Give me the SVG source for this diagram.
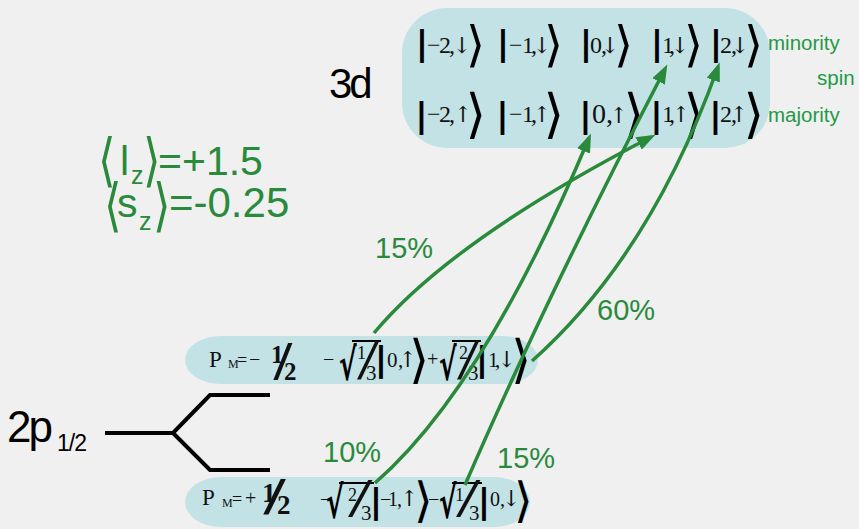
<svg xmlns="http://www.w3.org/2000/svg" width="859" height="529" viewBox="0 0 859 529">
<style>
.box{fill:#c3e2e6}
.k{font-family:"Liberation Serif","DejaVu Serif",serif;font-size:24px;fill:#111}
.ar{font-family:"DejaVu Serif",serif;font-size:22px}
.bar{font-family:"DejaVu Sans",sans-serif;font-size:34px;font-weight:bold;fill:#000}
.ang{font-family:"DejaVu Sans",sans-serif;fill:#000}
.g{font-family:"Liberation Sans",Arial,sans-serif;fill:#2a8a3c}
.gb{font-family:"DejaVu Sans",sans-serif;font-size:36px;fill:#2a8a3c}
.gl{font-family:"Liberation Sans",Arial,sans-serif;font-size:20.5px;fill:#1f9a47}
.pc{font-family:"Liberation Sans",Arial,sans-serif;font-size:29px;fill:#2a8a3c}
.blk{font-family:"Liberation Sans",Arial,sans-serif;fill:#000}
.f{font-family:"Liberation Serif","DejaVu Serif",serif;fill:#111}
.sl{font-family:"Liberation Serif","DejaVu Serif",serif;font-size:40px;fill:#111}
.rad{font-family:"DejaVu Sans",sans-serif;font-size:44px;font-weight:bold;fill:#000}
.vin{stroke:#000;stroke-width:2}
.lvl{fill:none;stroke:#000;stroke-width:4}
.arr{fill:none;stroke:#2a8a3c;stroke-width:3.5;marker-end:url(#ah)}
</style>
<defs>
<marker id="ah" markerWidth="20" markerHeight="14" refX="14" refY="7" orient="auto" markerUnits="userSpaceOnUse">
<path d="M0,0 L19,7 L0,14 z" fill="#2a8a3c"/>
</marker>
</defs>
<rect width="859" height="529" fill="#f0f0f0"/>

<g id="d3-box">
<rect class="box" x="402" y="8" width="368" height="140" rx="45" ry="45"/>
<text class="blk" x="329" y="98" font-size="42" letter-spacing="-3">3d</text>
</g>

<g id="d3-minority">
<text class="k"><tspan class="bar" x="415.8" y="55">|</tspan><tspan x="427 439 449" y="53">−2,</tspan><tspan class="ar" x="452.8" y="53">↓</tspan><tspan class="ang" font-size="49" x="466" y="60.5">⟩</tspan></text>
<text class="k"><tspan class="bar" x="496.8" y="55">|</tspan><tspan x="509 522 531" y="53">−1,</tspan><tspan class="ar" x="532.8" y="53">↓</tspan><tspan class="ang" font-size="49" x="544" y="60.5">⟩</tspan></text>
<text class="k"><tspan class="bar" x="579.8" y="55">|</tspan><tspan x="590 601" y="53">0,</tspan><tspan class="ar" x="600.8" y="53">↓</tspan><tspan class="ang" font-size="49" x="614" y="60.5">⟩</tspan></text>
<text class="k"><tspan class="bar" x="650.8" y="55">|</tspan><tspan x="662 669" y="53">1,</tspan><tspan class="ar" x="670.8" y="53">↓</tspan><tspan class="ang" font-size="49" x="684" y="60.5">⟩</tspan></text>
<text class="k"><tspan class="bar" x="709.8" y="55">|</tspan><tspan x="720 731" y="53">2,</tspan><tspan class="ar" x="730.8" y="53">↓</tspan><tspan class="ang" font-size="49" x="744" y="60.5">⟩</tspan></text>
</g>

<g id="d3-majority">
<text class="k"><tspan class="bar" font-size="37" x="415.2" y="127">|</tspan><tspan x="427 439 449" y="122">−2,</tspan><tspan class="ar" x="453.8" y="122">↑</tspan><tspan class="ang" font-size="53" x="465.5" y="132">⟩</tspan></text>
<text class="k"><tspan class="bar" font-size="37" x="496.2" y="127">|</tspan><tspan x="509 522 531" y="122">−1,</tspan><tspan class="ar" x="532.8" y="122">↑</tspan><tspan class="ang" font-size="53" x="543.5" y="132">⟩</tspan></text>
<text class="k"><tspan class="bar" font-size="37" x="579.2" y="127">|</tspan><tspan font-size="28" x="592 606" y="123">0,</tspan><tspan class="ar" font-size="25" x="609.5" y="123">↑</tspan><tspan class="ang" font-size="53" x="623.5" y="132">⟩</tspan></text>
<text class="k"><tspan class="bar" font-size="37" x="650.2" y="127">|</tspan><tspan x="662 669" y="122">1,</tspan><tspan class="ar" x="671.8" y="122">↑</tspan><tspan class="ang" font-size="53" x="683.5" y="132">⟩</tspan></text>
<text class="k"><tspan class="bar" font-size="37" x="709.2" y="127">|</tspan><tspan x="720 731" y="122">2,</tspan><tspan class="ar" x="729.8" y="122">↑</tspan><tspan class="ang" font-size="53" x="743.5" y="132">⟩</tspan></text>
</g>

<g id="spin-labels">
<text class="gl" x="768" y="50">minority</text>
<text class="gl" x="817" y="85">spin</text>
<text class="gl" x="768" y="122">majority</text>
</g>

<g id="expectation">
<text class="gb" transform="translate(98,180) scale(1.25,1.6)">⟨</text>
<text class="g" font-size="41"><tspan x="120" y="175">l</tspan><tspan font-size="25" x="131" y="184">z</tspan></text>
<text class="gb" transform="translate(143,180) scale(1.25,1.6)">⟩</text>
<text class="g" x="158" y="175" font-size="41">=+1.5</text>
<text class="gb" transform="translate(104,225) scale(1.25,1.6)">⟨</text>
<text class="g" font-size="41"><tspan x="117" y="217">s</tspan><tspan font-size="25" x="139" y="230">z</tspan></text>
<text class="gb" transform="translate(153,225) scale(1.25,1.6)">⟩</text>
<text class="g" x="169" y="217" font-size="42">=-0.25</text>
</g>

<g id="p12-level">
<text class="blk" x="7" y="442" font-size="44" letter-spacing="-3">2p</text>
<text class="blk" x="57" y="451" font-size="23" letter-spacing="-1">1/2</text>
<polyline class="lvl" points="105,433 173,433 210,395 270,395"/>
<polyline class="lvl" points="173,433 210,470 270,470"/>
</g>

<g id="pm-minus">
<rect class="box" x="185" y="336" width="353" height="48" rx="36" ry="24"/>
<text class="f"><tspan font-size="23" x="209" y="367">P</tspan><tspan font-size="12" x="228" y="368">M</tspan><tspan font-size="18" x="237" y="366">=</tspan><tspan font-size="20" x="249" y="366">−</tspan><tspan font-size="25" font-weight="bold" x="271" y="363">1</tspan><tspan font-size="25" font-weight="bold" x="284" y="380">2</tspan><tspan font-size="20" x="323" y="366">−</tspan><tspan font-size="18" x="357" y="359">1</tspan><tspan font-size="21" x="366" y="380">3</tspan><tspan class="bar" font-size="40" x="374.7" y="371">|</tspan><tspan font-size="21" x="387 398" y="367">0,</tspan><tspan class="ar" font-size="20" x="398.6" y="367">↑</tspan><tspan class="ang" font-size="52" x="409" y="377">⟩</tspan><tspan font-size="20" x="427" y="366">+</tspan><tspan font-size="18" x="459" y="359">2</tspan><tspan font-size="21" x="468" y="380">3</tspan><tspan class="bar" font-size="40" x="475.7" y="371">|</tspan><tspan font-size="21" x="488 495" y="367">1,</tspan><tspan class="ar" font-size="20" x="497.6" y="367">↓</tspan><tspan class="ang" font-size="52" x="511" y="377">⟩</tspan></text>
<text class="sl" font-weight="bold" transform="translate(274,379) scale(1.6,1.35)">/</text>
<text class="rad" transform="translate(339,380) scale(0.6,1)">√</text>
<line class="vin" x1="352" y1="341" x2="381" y2="341"/>
<text class="sl" transform="translate(357,379) scale(2,1.45)">/</text>
<text class="rad" transform="translate(439,380) scale(0.6,1)">√</text>
<line class="vin" x1="452" y1="341" x2="481" y2="341"/>
<text class="sl" transform="translate(457,379) scale(2,1.45)">/</text>
</g>

<g id="pm-plus">
<rect class="box" x="185" y="477" width="345" height="50" rx="36" ry="25"/>
<text class="f"><tspan font-size="23" x="202" y="505">P</tspan><tspan font-size="12" x="222" y="507">M</tspan><tspan font-size="18" x="232" y="505">=</tspan><tspan font-size="20" x="245" y="505">+</tspan><tspan font-size="28" font-weight="bold" x="262" y="502">1</tspan><tspan font-size="27" font-weight="bold" x="277" y="514">2</tspan><tspan font-size="20" x="320" y="506">−</tspan><tspan font-size="18" x="348" y="501">2</tspan><tspan font-size="21" x="361" y="520">3</tspan><tspan class="bar" font-size="40" x="369.7" y="513">|</tspan><tspan font-size="20" x="380 388 397" y="506">−1,</tspan><tspan class="ar" font-size="19" x="400" y="506">↑</tspan><tspan class="ang" font-size="48" x="414" y="517">⟩</tspan><tspan font-size="20" x="428" y="506">−</tspan><tspan font-size="18" x="455" y="501">1</tspan><tspan font-size="21" x="469" y="520">3</tspan><tspan class="bar" font-size="40" x="477.7" y="513">|</tspan><tspan font-size="20" x="490 500" y="506">0,</tspan><tspan class="ar" font-size="19" x="502" y="506">↓</tspan><tspan class="ang" font-size="48" x="514" y="517">⟩</tspan></text>
<text class="sl" font-weight="bold" transform="translate(264,514) scale(1.9,1.3)">/</text>
<text class="rad" transform="translate(326,518) scale(0.6,1)">√</text>
<line class="vin" x1="339" y1="483" x2="374" y2="483"/>
<text class="sl" transform="translate(348,516) scale(2.2,1.35)">/</text>
<text class="rad" transform="translate(439,518) scale(0.6,1)">√</text>
<line class="vin" x1="452" y1="483" x2="482" y2="483"/>
<text class="sl" transform="translate(456,516) scale(2.2,1.35)">/</text>
</g>

<g id="connectors">
<path class="arr" d="M374,333 Q452,240 651,137"/>
<path class="arr" d="M532,361 C595,305 665,215 718,67"/>
<path class="arr" d="M375,483 Q484,388 589,138"/>
<path class="arr" d="M465,485 Q545,300 665,69"/>
</g>

<g id="percent-labels">
<text class="pc" x="375" y="258">15%</text>
<text class="pc" x="597" y="320">60%</text>
<text class="pc" x="323" y="462">10%</text>
<text class="pc" x="497" y="468">15%</text>
</g>
</svg>
